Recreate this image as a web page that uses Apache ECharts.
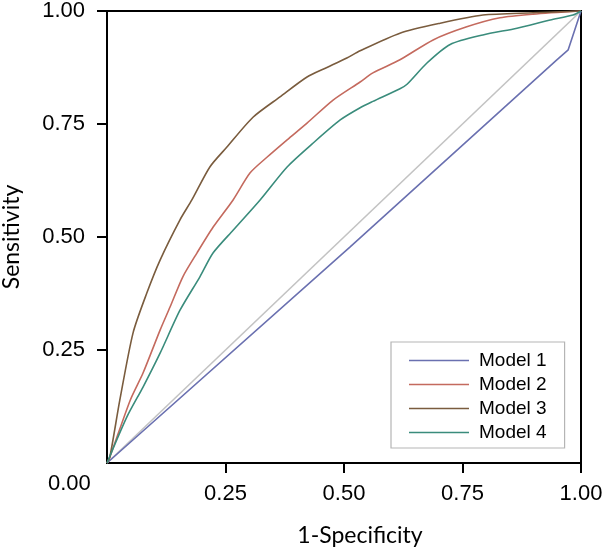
<!DOCTYPE html>
<html>
<head>
<meta charset="utf-8">
<script src="https://cdn.jsdelivr.net/npm/echarts@6/dist/echarts.min.js"></script>
<style>
html,body{margin:0;padding:0;background:#fff;}
#main{width:606px;height:550px;}
</style>
</head>
<body>
<div id="main"></div>
<script>
const tickValues = [0.25, 0.5, 0.75, 1];
const seriesNames = ['Model 1', 'Model 2', 'Model 3', 'Model 4'];

const model1X = [0, 0.513, 0.949, 0.973, 1];
const model1Y = [0, 0.478, 0.892, 0.914, 1];

const model2X = [0, 0.006, 0.049, 0.076, 0.112, 0.133, 0.160, 0.190, 0.224, 0.266, 0.302, 0.338, 0.380, 0.422, 0.477, 0.534, 0.561, 0.618, 0.688, 0.759, 0.829, 0.899, 1];
const model2Y = [0, 0.013, 0.139, 0.199, 0.294, 0.345, 0.412, 0.465, 0.522, 0.582, 0.642, 0.677, 0.715, 0.752, 0.803, 0.843, 0.863, 0.892, 0.936, 0.965, 0.985, 0.993, 1];

const model3X = [0, 0.006, 0.027, 0.055, 0.084, 0.112, 0.154, 0.179, 0.217, 0.253, 0.308, 0.365, 0.422, 0.464, 0.506, 0.534, 0.618, 0.703, 0.793, 0.899, 1];
const model3Y = [0, 0.013, 0.139, 0.288, 0.376, 0.449, 0.538, 0.582, 0.655, 0.699, 0.765, 0.810, 0.854, 0.875, 0.896, 0.912, 0.951, 0.973, 0.991, 0.996, 1];

const model4X = [0, 0.042, 0.076, 0.112, 0.154, 0.196, 0.224, 0.266, 0.323, 0.380, 0.435, 0.492, 0.534, 0.561, 0.618, 0.633, 0.675, 0.724, 0.793, 0.865, 0.935, 0.983, 1];
const model4Y = [0, 0.102, 0.168, 0.243, 0.338, 0.412, 0.465, 0.515, 0.582, 0.655, 0.708, 0.759, 0.786, 0.800, 0.828, 0.838, 0.885, 0.926, 0.947, 0.962, 0.980, 0.991, 1];

const refX = [0, 1];
const refY = [0, 1];

const colors = ['#6a70b0', '#c46a5e', '#7a5c3e', '#3a8c7c'];

function pairs(xs, ys) { return xs.map((x, i) => [x, ys[i]]); }

const chart = echarts.init(document.getElementById('main'), null, {renderer: 'canvas'});
const labelFont = {fontFamily: 'Liberation Sans', fontSize: 22, color: '#000'};

const lineSeries = [
  [model1X, model1Y], [model2X, model2Y], [model3X, model3Y], [model4X, model4Y]
].map((d, i) => ({
  name: seriesNames[i],
  type: 'line',
  data: pairs(d[0], d[1]),
  symbol: 'none',
  smooth: i === 0 ? false : 0.25,
  lineStyle: {color: colors[i], width: 1.6},
  itemStyle: {color: colors[i]},
  z: 3
}));

chart.setOption({
  animation: false,
  backgroundColor: '#fff',
  grid: {left: 107, right: 25, top: 11, bottom: 87, show: true, borderColor: '#000', borderWidth: 2,
         containLabel: false, outerBoundsMode: 'none'},
  xAxis: {
    type: 'value', min: 0, max: 1, interval: 0.25,
    name: '1-Specificity', nameLocation: 'middle', nameGap: 61,
    nameTextStyle: {fontFamily: 'Lato', fontSize: 23, color: '#000', padding: [0, 0, 0, 32]},
    axisLine: {show: true, lineStyle: {color: '#000', width: 2}},
    axisTick: {show: true, length: 10, lineStyle: {color: '#000', width: 2}, customValues: tickValues},
    axisLabel: Object.assign({margin: 20, customValues: tickValues, formatter: v => v.toFixed(2)}, labelFont),
    splitLine: {show: false}
  },
  yAxis: {
    type: 'value', min: 0, max: 1, interval: 0.25,
    name: 'Sensitivity', nameLocation: 'middle', nameGap: 84,
    nameTextStyle: {fontFamily: 'Lato', fontSize: 23, color: '#000'},
    axisLine: {show: true, lineStyle: {color: '#000', width: 2}},
    axisTick: {show: true, length: 10, lineStyle: {color: '#000', width: 2}, customValues: tickValues},
    axisLabel: Object.assign({margin: 22, customValues: tickValues, formatter: v => v.toFixed(2)}, labelFont),
    splitLine: {show: false}
  },
  legend: {
    data: seriesNames,
    orient: 'vertical',
    left: 391, top: 342,
    padding: [9, 18, 6, 18],
    itemWidth: 60, itemHeight: 14, itemGap: 5,
    backgroundColor: '#fff',
    borderColor: '#b5b5b5', borderWidth: 1.2,
    textStyle: {fontFamily: 'Liberation Sans', fontSize: 19, color: '#000', padding: [0, 0, 0, 5]},
    icon: 'path://M0,6.5 L60,6.5 L60,8 L0,8 Z'
  },
  graphic: [{
    type: 'text', left: 48, top: 473,
    style: {text: '0.00', font: '22px "Liberation Sans"', fill: '#000'}
  }],
  series: [{
    name: 'ref', type: 'line', data: pairs(refX, refY), symbol: 'none',
    lineStyle: {color: '#c3c3c3', width: 1.6}, z: 2
  }].concat(lineSeries)
});
</script>
</body>
</html>
